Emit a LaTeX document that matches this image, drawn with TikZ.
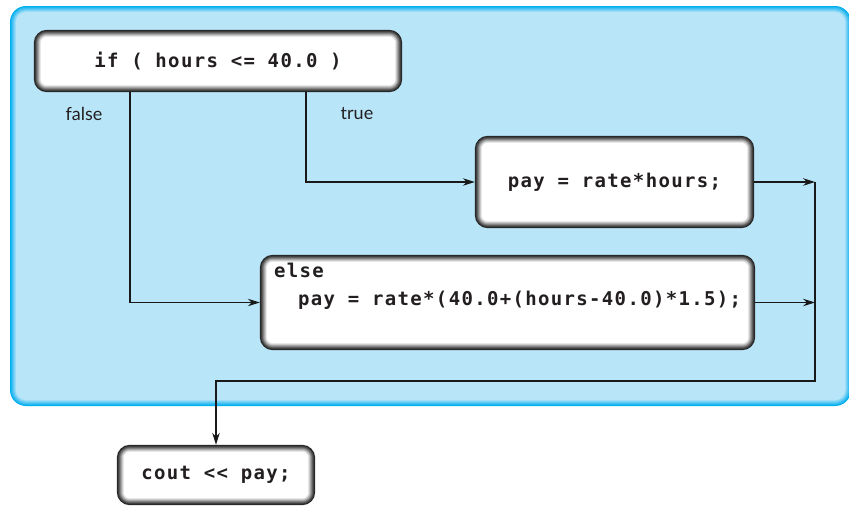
\documentclass[tikz,border=0pt]{standalone}
\usepackage{fontspec}
\setmainfont{Lato}
\newfontfamily\codefont{DejaVu Sans Mono}[LetterSpace=7]
\usetikzlibrary{backgrounds,calc,arrows.meta}
\definecolor{panelblue}{HTML}{00AEEF}
\definecolor{panelfill}{HTML}{B9E5F8}
\definecolor{ink}{HTML}{231F20}
\newcommand\ringbox[1]{%
  \foreach \k/\c in {0/85,1/76,2/64,3/50,4/36,5/22,6/10}{%
    \pgfmathsetmacro\rr{13-\k}%
    \fill[black!\c, rounded corners=\rr pt] ($(#1.south west)+(\k,-\k)$) rectangle ($(#1.north east)+(-\k,\k)$);}%
  \fill[white, rounded corners=6pt] ($(#1.south west)+(7,-7)$) rectangle ($(#1.north east)+(-7,7)$);}
\begin{document}
\begin{tikzpicture}[x=1pt,y=-1pt,
  codebox/.style={inner sep=0pt, text=ink, font=\codefont\bfseries\fontsize{19}{28}\selectfont},
  codetext/.style={inner sep=0pt, text=ink, font=\codefont\bfseries\fontsize{19}{28}\selectfont},
  lbl/.style={inner sep=0pt, text=ink, font=\fontsize{18}{20}\selectfont},
  conn/.style={draw=black!90, line width=1.1pt},
  arr/.style={conn, -{Stealth[length=12pt,width=7.5pt]}}]
\useasboundingbox (0,0) rectangle (849,506);
% nodes
\node[codebox, minimum width=368pt, minimum height=62pt] (ifb) at (218,61) {if ( hours <= 40.0 )};
\node[codebox, minimum width=279pt, minimum height=92pt] (payb) at (614.5,182) {pay = rate*hours;};
\node[codebox, minimum width=495pt, minimum height=95pt] (elseb) at (507.5,302.5) {};
\node[codetext, anchor=north west, align=left] (elsetxt) at ($(elseb.north west)+(14,8)$) {else\\\phantom{xx}pay = rate*(40.0+(hours-40.0)*1.5);};
\node[codebox, minimum width=198pt, minimum height=60pt] (coutb) at (216,475) {cout << pay;};
\node[lbl] (flab) at (84,114) {false};
\node[lbl] (tlab) at (357,114) {true};
\coordinate (fx) at (130,0);
\coordinate (tx) at (306,0);
\coordinate (jx) at (815,0);
\coordinate (jy) at (0,381);
% background
\begin{pgfonlayer}{background}
  \foreach \k in {0,...,6}{%
    \pgfmathsetmacro\p{100-\k*100/6}%
    \pgfmathsetmacro\rr{16-\k}%
    \fill[panelblue!\p!panelfill, rounded corners=\rr pt] (10+\k,6+\k) rectangle (851-\k,406-\k);}
  \ringbox{ifb}
  \ringbox{payb}
  \ringbox{elseb}
  \ringbox{coutb}
\end{pgfonlayer}
% connectors
\draw[arr] (ifb.south -| fx) |- (elseb.west);
\draw[arr] (ifb.south -| tx) |- (payb.west);
\draw[arr] (payb.east) -- (payb.east -| jx);
\draw[arr] (elseb.east) -- (elseb.east -| jx);
\draw[conn] (payb.east -| jx) -- (jx |- jy) -| ($(coutb.north)+(0,-25)$);
\draw[arr] ($(coutb.north)+(0,-25)$) -- (coutb.north);
\end{tikzpicture}
\end{document}
